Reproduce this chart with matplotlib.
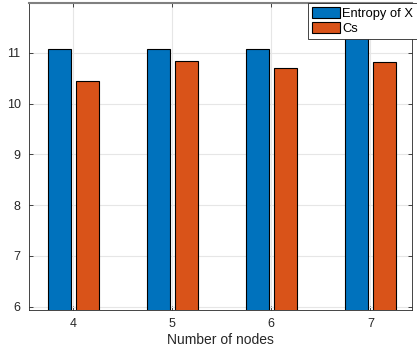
import matplotlib
matplotlib.use("Agg")
import matplotlib.pyplot as plt
import numpy as np

nodes = [4, 5, 6, 7]
entropy_x = [11.07, 11.08, 11.07, 11.40]
cs = [10.44, 10.83, 10.71, 10.82]
yticks = [6, 7, 8, 9, 10, 11]

plt.rcParams['font.family'] = ['Liberation Sans', 'DejaVu Sans']

fig = plt.figure(figsize=(4.17, 3.54), dpi=100)
ax = fig.add_axes([0.0695, 0.1243, 0.9185, 0.8672])

x = np.array(nodes, dtype=float)
w = 0.23
ax.bar(x - 0.14, entropy_x, w, color='#0072BD', edgecolor='black', linewidth=0.8,
       label='Entropy of X', zorder=3)
ax.bar(x + 0.145, cs, w, color='#D95319', edgecolor='black', linewidth=0.8,
       label='Cs', zorder=3)

ax.set_xlim(3.553, 7.42)
ax.set_ylim(5.935, 11.98)
ax.set_xticks(nodes)
ax.set_yticks(yticks)
ax.grid(True, color='#e6e6e6', linewidth=0.8, zorder=0)
ax.set_axisbelow(True)
ax.tick_params(direction='in', top=True, right=True, length=3, width=0.6,
               colors='#262626', labelsize=9, pad=6)
for s in ax.spines.values():
    s.set_color('#262626')
    s.set_linewidth(0.6)
ax.spines['top'].set_color('#808080')
ax.spines['top'].set_linewidth(1.5)
ax.set_xlabel('Number of nodes', fontsize=10, color='#262626', labelpad=2)

leg = ax.legend(loc='upper right', bbox_to_anchor=(1.0, 0.991),
                bbox_transform=fig.transFigure, fontsize=9.3,
                frameon=True, fancybox=False, edgecolor='#262626',
                framealpha=1.0,
                borderpad=0.3, labelspacing=0.2, handlelength=2.2,
                handleheight=0.9, handletextpad=0.15, borderaxespad=0.0)
leg.get_frame().set_linewidth(0.6)
leg.set_zorder(5)

fig.savefig('out.png', dpi=100)
